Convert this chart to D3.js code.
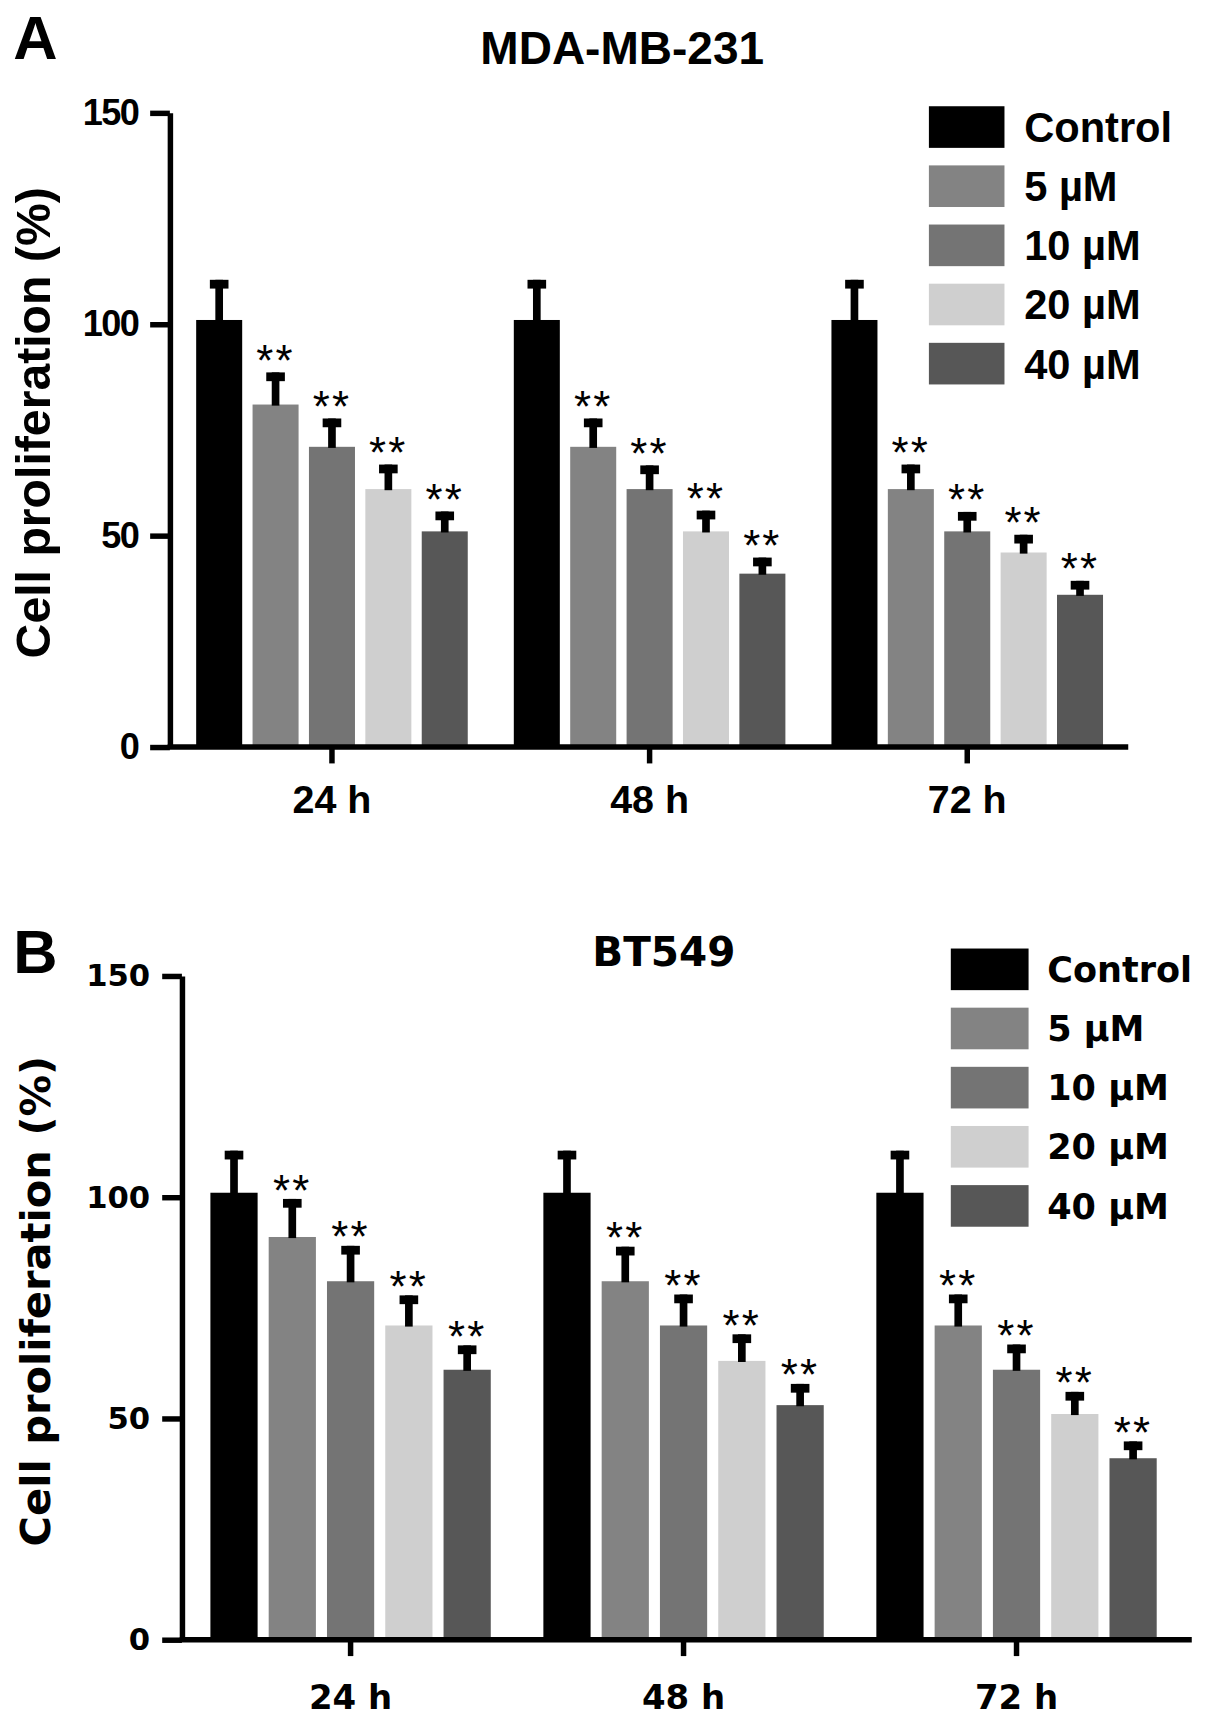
<!DOCTYPE html>
<html>
<head>
<meta charset="utf-8">
<script src="https://cdn.jsdelivr.net/npm/d3@7"></script>
<style>
  body { margin: 0; background: #fff; }
</style>
</head>
<body>
<svg id="fig"></svg>
<script>
// groups on the x axis and the five treatments
var groups = ['24 h', '48 h', '72 h'];
var doses = ['Control', '5 µM', '10 µM', '20 µM', '40 µM'];
var doseColors = ['#000000', '#838383', '#747474', '#cfcfcf', '#575757'];
var yTicks = [0, 50, 100, 150];
var sigMarks = ['', '**', '**', '**', '**'];

// MDA-MB-231, mean and SD per group (rows) and dose (cols)
var mdaMeans = [
  [101, 81, 71, 61, 51],
  [101, 71, 61, 51, 41],
  [101, 61, 51, 46, 36]
];
var mdaErrors = [
  [9.5, 7.6, 6.7, 5.8, 4.7],
  [9.5, 6.7, 5.6, 4.9, 3.8],
  [9.5, 5.8, 4.6, 4.2, 3.3]
];

// BT549
var btMeans = [
  [101, 91, 81, 71, 61],
  [101, 81, 71, 63, 53],
  [101, 71, 61, 51, 41]
];
var btErrors = [
  [9.5, 8.6, 8.0, 6.8, 5.5],
  [9.5, 7.8, 7.0, 6.0, 4.8],
  [9.5, 7.0, 5.7, 5.0, 3.8]
];

var svg = d3.select('#fig')
  .attr('width', 1205)
  .attr('height', 1724)
  .attr('viewBox', '0 0 1100 1574');

function drawPanel(p) {
  var g = svg.append('g').style('font-family', p.font);

  var y = d3.scaleLinear().domain([0, 150]).range([p.y0, p.y150]);
  var x0 = d3.scaleBand()
    .domain(groups)
    .range(p.xRange)
    .paddingInner(p.groupPad)
    .paddingOuter(p.groupPad / 2);
  var x1 = d3.scaleBand()
    .domain(doses)
    .range([0, x0.bandwidth()])
    .paddingInner(p.barPad);
  var color = d3.scaleOrdinal().domain(doses).range(doseColors);

  // panel letter + title
  g.append('text')
    .attr('x', 12).attr('y', p.letterY)
    .style('font-family', 'Liberation Sans, Arial, sans-serif')
    .style('font-weight', 'bold').style('font-size', '56px')
    .text(p.letter);
  g.append('text')
    .attr('x', p.titleX).attr('y', p.titleY)
    .attr('text-anchor', 'middle')
    .style('font-weight', 'bold').style('font-size', p.titleSize + 'px')
    .text(p.title);

  // bars, error bars and stars
  groups.forEach(function(grp, gi) {
    var rows = doses.map(function(d, di) {
      return { dose: d, mean: p.means[gi][di], err: p.errors[gi][di], mark: sigMarks[di] };
    });
    var cell = g.append('g').attr('transform', 'translate(' + x0(grp) + ',0)');

    cell.selectAll('rect.bar')
      .data(rows)
      .enter().append('rect')
      .attr('class', 'bar')
      .attr('x', function(d) { return x1(d.dose); })
      .attr('y', function(d) { return y(d.mean); })
      .attr('width', x1.bandwidth())
      .attr('height', function(d) { return y(0) - y(d.mean); })
      .attr('fill', function(d) { return color(d.dose); });

    var mid = function(d) { return x1(d.dose) + x1.bandwidth() / 2; };

    cell.selectAll('rect.stem')
      .data(rows)
      .enter().append('rect')
      .attr('class', 'stem')
      .attr('x', function(d) { return mid(d) - p.stemW / 2; })
      .attr('y', function(d) { return y(d.mean + d.err); })
      .attr('width', p.stemW)
      .attr('height', function(d) { return y(d.mean) - y(d.mean + d.err) + 1; })
      .attr('fill', '#000');

    cell.selectAll('rect.cap')
      .data(rows)
      .enter().append('rect')
      .attr('class', 'cap')
      .attr('x', function(d) { return mid(d) - p.capW / 2; })
      .attr('y', function(d) { return y(d.mean + d.err); })
      .attr('width', p.capW)
      .attr('height', p.capH)
      .attr('fill', '#000');

    cell.selectAll('text.star')
      .data(rows.filter(function(d) { return d.mark; }))
      .enter().append('text')
      .attr('class', 'star')
      .attr('x', mid)
      .attr('y', function(d) { return y(d.mean + d.err) + p.starDy; })
      .attr('text-anchor', 'middle')
      .style('font-family', 'Liberation Sans, Arial, sans-serif')
      .style('font-size', p.starSize + 'px')
      .style('letter-spacing', '2px')
      .text(function(d) { return d.mark; });
  });

  // y axis
  var yAxis = g.append('g')
    .attr('transform', 'translate(' + p.axisX + ',0)')
    .call(d3.axisLeft(y).tickValues(yTicks).tickSize(18).tickSizeOuter(0).tickPadding(p.yPad));
  yAxis.select('.domain').attr('stroke-width', 5).attr('stroke', '#000');
  yAxis.selectAll('.tick line').attr('stroke-width', 5).attr('stroke', '#000');
  yAxis.selectAll('.tick text')
    .attr('fill', '#000')
    .style('font-family', p.font)
    .style('font-weight', 'bold')
    .style('font-size', p.tickSize + 'px')
    .style('letter-spacing', p.tickSpacing + 'px');

  // x axis
  var xAxis = g.append('g')
    .attr('transform', 'translate(0,' + p.y0 + ')')
    .call(d3.axisBottom(x0).tickSize(15).tickSizeOuter(0).tickPadding(p.xPad));
  xAxis.select('.domain').remove();
  xAxis.append('line')
    .attr('x1', p.axisX - 2).attr('x2', p.xEnd)
    .attr('stroke', '#000').attr('stroke-width', 5);
  xAxis.selectAll('.tick line').attr('stroke-width', 5).attr('stroke', '#000');
  xAxis.selectAll('.tick text')
    .attr('fill', '#000')
    .style('font-family', p.font)
    .style('font-weight', 'bold')
    .style('font-size', p.catSize + 'px');

  // y label
  g.append('text')
    .attr('transform', 'translate(' + p.ylabX + ',' + p.ylabY + ') rotate(-90)')
    .attr('text-anchor', 'middle')
    .style('font-weight', 'bold')
    .style('font-size', p.ylabSize + 'px')
    .text('Cell proliferation (%)');

  // legend
  var leg = g.selectAll('g.leg')
    .data(doses)
    .enter().append('g')
    .attr('class', 'leg')
    .attr('transform', function(d, i) { return 'translate(' + p.legX + ',' + (p.legY + i * p.legStep) + ')'; });
  leg.append('rect')
    .attr('width', p.swW).attr('height', p.swH)
    .attr('fill', function(d) { return color(d); });
  leg.append('text')
    .attr('x', p.swW + p.legGap)
    .attr('y', p.swH / 2 + p.legSize * 0.36)
    .style('font-weight', 'bold')
    .style('font-size', p.legSize + 'px')
    .text(function(d) { return d; });
}

drawPanel({
  font: 'Liberation Sans, Arial, sans-serif',
  letter: 'A', letterY: 54,
  title: 'MDA-MB-231', titleX: 568, titleY: 58, titleSize: 42,
  means: mdaMeans, errors: mdaErrors,
  y0: 682, y150: 103,
  axisX: 155, xRange: [158, 1028], xEnd: 1030,
  groupPad: 0.145, barPad: 0.184,
  stemW: 7, capW: 17, capH: 8,
  starSize: 40, starDy: 3,
  tickSize: 33, tickSpacing: -1.5, yPad: 11, xPad: 20, catSize: 36,
  ylabX: 46, ylabY: 386, ylabSize: 44,
  legX: 848, legY: 97, legStep: 54, swW: 69, swH: 38, legGap: 18, legSize: 38
});

drawPanel({
  font: 'DejaVu Sans, Verdana, sans-serif',
  letter: 'B', letterY: 888,
  title: 'BT549', titleX: 606, titleY: 882, titleSize: 37,
  means: btMeans, errors: btErrors,
  y0: 1497, y150: 891,
  axisX: 166, xRange: [168, 1080], xEnd: 1088,
  groupPad: 0.158, barPad: 0.19,
  stemW: 7, capW: 17, capH: 8,
  starSize: 40, starDy: 6,
  tickSize: 28, tickSpacing: 0, yPad: 11, xPad: 26, catSize: 31,
  ylabX: 46, ylabY: 1188, ylabSize: 38,
  legX: 868, legY: 866, legStep: 54, swW: 71, swH: 38, legGap: 17, legSize: 32
});
</script>
</body>
</html>
